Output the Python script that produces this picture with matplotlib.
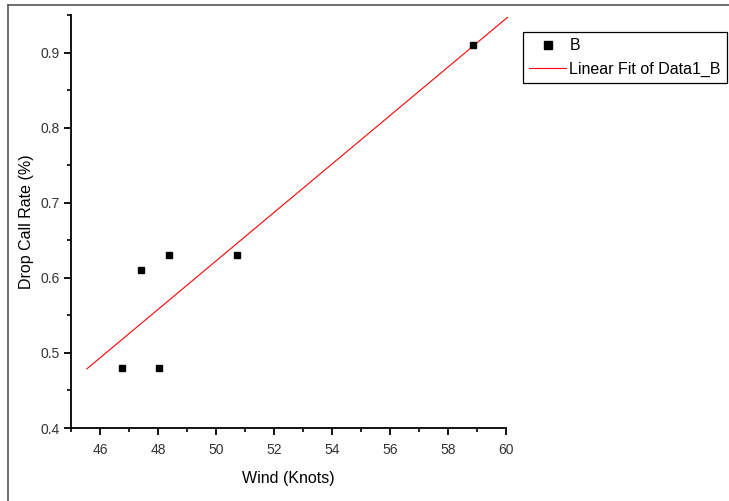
import numpy as np
import matplotlib
matplotlib.use('Agg')
import matplotlib.pyplot as plt
from matplotlib.ticker import MultipleLocator
from matplotlib.lines import Line2D

# data
wind = [46.76, 47.41, 48.03, 48.38, 50.72, 58.86]
drop_rate = [0.48, 0.61, 0.48, 0.63, 0.63, 0.91]
fit_range = [45.55, 60.05]

plt.rcParams['font.family'] = ['Liberation Sans', 'DejaVu Sans']

fig = plt.figure(figsize=(7.29, 5.01), dpi=100)
ax = fig.add_axes([71/729, 73/501, 435/729, 413/501])

# linear fit from the points
k, b = np.polyfit(wind, drop_rate, 1)
fx = np.array(fit_range)
ax.plot(fx, k*fx + b, color='#ff0000', lw=0.8, clip_on=False, zorder=2)
ax.plot(wind, drop_rate, 's', color='black', ms=5, zorder=3, clip_on=False)

ax.set_xlim(45, 60)
ax.set_ylim(0.4, 0.95)
ax.xaxis.set_major_locator(MultipleLocator(2))
ax.xaxis.set_minor_locator(MultipleLocator(1))
ax.yaxis.set_major_locator(MultipleLocator(0.1))
ax.yaxis.set_minor_locator(MultipleLocator(0.05))
ax.set_xticks([46, 48, 50, 52, 54, 56, 58, 60])
ax.set_yticks([0.4, 0.5, 0.6, 0.7, 0.8, 0.9])
ax.set_yticklabels(['0.4', '0.5', '0.6', '0.7', '0.8', '0.9'])
for s in ['top', 'right']:
    ax.spines[s].set_visible(False)
for s in ['left', 'bottom']:
    ax.spines[s].set_linewidth(1.3)
ax.tick_params(which='major', direction='out', length=5, width=1.3, labelsize=10,
               labelcolor='#333333')
ax.tick_params(axis='x', which='major', pad=6)
ax.tick_params(axis='y', which='major', pad=3)
ax.tick_params(which='minor', direction='out', length=3, width=1.2)

ax.set_xlabel('Wind (Knots)', fontsize=11.5, labelpad=10)
ax.set_ylabel('Drop Call Rate (%)', fontsize=11.5, labelpad=5)

handles = [Line2D([], [], marker='s', ls='none', color='black', ms=5.5),
           Line2D([], [], color='#ff0000', lw=0.8)]
leg = fig.legend(handles, ['B', 'Linear Fit of Data1_B'], loc='upper left',
                 bbox_to_anchor=(523/729, 1 - 32/501), fontsize=11.5,
                 fancybox=False, edgecolor='black', framealpha=1,
                 handlelength=2.3, handletextpad=0.2, borderpad=0.4,
                 labelspacing=0.5, borderaxespad=0)
leg.get_frame().set_linewidth(0.9)

# outer frame lines of the original export
fig.add_artist(Line2D([8/729, 8/729], [0, 1 - 5/501], color='#555555', lw=1.2))
fig.add_artist(Line2D([8/729, 1], [1 - 5/501, 1 - 5/501], color='#555555', lw=1.2))

plt.savefig('out.png', dpi=100)
